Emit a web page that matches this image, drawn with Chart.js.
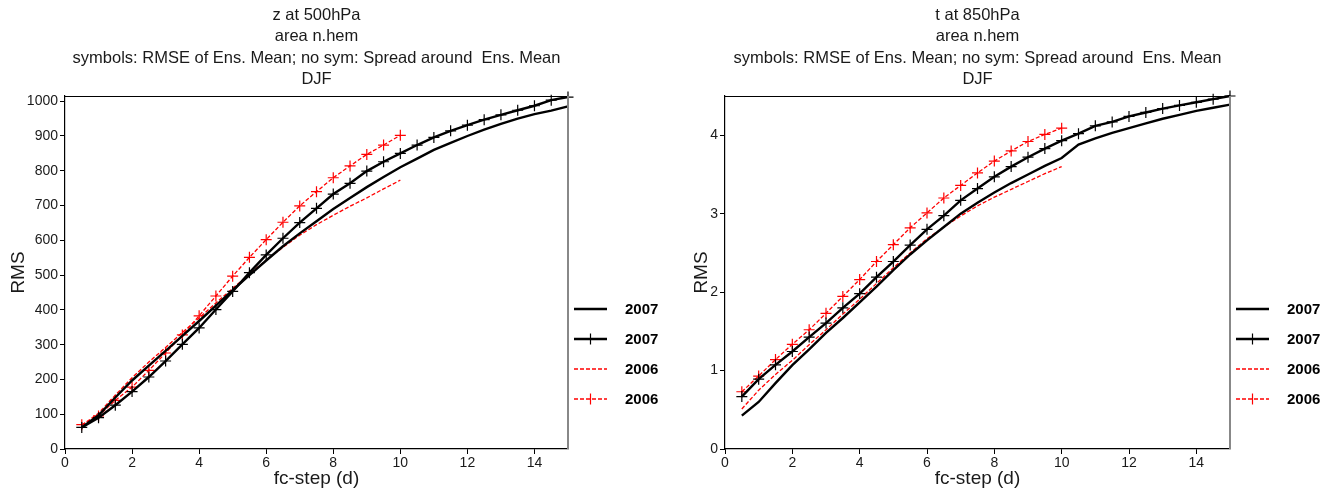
<!DOCTYPE html>
<html>
<head>
<meta charset="utf-8">
<script src="https://cdn.jsdelivr.net/npm/chart.js@4.4.1/dist/chart.umd.min.js"></script>
<style>
  body { margin: 0; background: #fff; }
  #zChart { position: absolute; left: 0; top: 0; }
  #tChart { position: absolute; left: 668px; top: 0; }
</style>
</head>
<body>
<canvas id="zChart" width="668" height="493"></canvas>
<canvas id="tChart" width="669" height="493"></canvas>
<script>
// forecast steps (days)
const steps = [0.5, 1, 1.5, 2, 2.5, 3, 3.5, 4, 4.5, 5, 5.5, 6, 6.5, 7, 7.5, 8, 8.5, 9, 9.5, 10,
               10.5, 11, 11.5, 12, 12.5, 13, 13.5, 14, 14.5, 15];
const steps2006 = [0.5, 1, 1.5, 2, 2.5, 3, 3.5, 4, 4.5, 5, 5.5, 6, 6.5, 7, 7.5, 8, 8.5, 9, 9.5, 10];

// z at 500hPa
const zSpread2007 = [62, 97, 148, 197, 240, 282, 325, 368, 412, 457, 500, 542, 583, 620, 655, 690, 722, 753, 782, 810,
                     835, 860, 880, 900, 918, 935, 950, 963, 973, 985];
const zRmse2007 = [62, 90, 126, 165, 207, 253, 301, 348, 401, 453, 507, 558, 606, 651, 692, 733, 764, 799, 826, 850,
                   874, 896, 915, 931, 947, 961, 974, 987, 1003, 1012];
const zSpread2006 = [68, 103, 155, 205, 250, 292, 335, 377, 420, 462, 503, 543, 580, 615, 645, 672, 698, 722, 748, 773];
const zRmse2006 = [70, 95, 140, 178, 226, 276, 328, 383, 440, 497, 551, 602, 652, 699, 740, 780, 814, 847, 874, 902];

// t at 850hPa
const tSpread2007 = [0.425, 0.60, 0.84, 1.07, 1.27, 1.48, 1.67, 1.87, 2.07, 2.28, 2.48, 2.66, 2.83, 3.00, 3.14, 3.27, 3.39, 3.50, 3.61, 3.71,
                     3.88, 3.96, 4.03, 4.09, 4.15, 4.21, 4.26, 4.31, 4.35, 4.39];
const tRmse2007 = [0.668, 0.89, 1.073, 1.243, 1.427, 1.605, 1.80, 1.98, 2.19, 2.39, 2.60, 2.80, 2.975, 3.17, 3.32, 3.47, 3.60, 3.72, 3.83, 3.93,
                   4.02, 4.12, 4.17, 4.24, 4.29, 4.34, 4.38, 4.42, 4.46, 4.50];
const tSpread2006 = [0.51, 0.75, 0.95, 1.13, 1.33, 1.52, 1.72, 1.91, 2.11, 2.31, 2.50, 2.68, 2.83, 2.97, 3.10, 3.21, 3.31, 3.41, 3.51, 3.60];
const tRmse2006 = [0.73, 0.93, 1.14, 1.335, 1.52, 1.73, 1.945, 2.16, 2.39, 2.605, 2.82, 3.01, 3.20, 3.36, 3.52, 3.67, 3.80, 3.92, 4.01, 4.09];

const subTitles = ['area n.hem', 'symbols: RMSE of Ens. Mean; no sym: Spread around  Ens. Mean', 'DJF'];
const seriesLabels = ['2007', '2007', '2006', '2006'];

const FONT = '"Liberation Sans", Arial, sans-serif';

function toPoints(xs, ys) {
    return ys.map((y, i) => ({ x: xs[i], y: y }));
}

// titles, frame and legend drawn around the plot
const decorPlugin = {
    id: 'decor',
    afterDraw(chart, args, opts) {
        const ctx = chart.ctx;
        const area = chart.chartArea;
        ctx.save();
        // title lines
        ctx.fillStyle = '#1a1a1a';
        ctx.font = '16.5px ' + FONT;
        ctx.textAlign = 'center';
        ctx.textBaseline = 'alphabetic';
        const cx = (area.left + area.right) / 2;
        opts.lines.forEach((t, i) => ctx.fillText(t, cx, 20 + i * 21.4));

        // top and right frame
        ctx.strokeStyle = '#000';
        ctx.lineWidth = 1;
        ctx.beginPath();
        ctx.moveTo(area.left, area.top + 0.5);
        ctx.lineTo(area.right, area.top + 0.5);
        ctx.stroke();
        ctx.strokeStyle = '#888';
        ctx.lineWidth = 2;
        ctx.beginPath();
        ctx.moveTo(area.right, area.top);
        ctx.lineTo(area.right, area.bottom);
        ctx.stroke();

        // legend
        ctx.font = 'bold 15px ' + FONT;
        ctx.textAlign = 'left';
        ctx.textBaseline = 'middle';
        chart.data.datasets.forEach((ds, i) => {
            const y = 309 + i * 30;
            const x0 = area.right + 6, x1 = area.right + 39;
            ctx.strokeStyle = ds.borderColor;
            ctx.lineWidth = ds.borderWidth;
            ctx.setLineDash(ds.borderDash || []);
            ctx.beginPath();
            ctx.moveTo(x0, y);
            ctx.lineTo(x1, y);
            ctx.stroke();
            ctx.setLineDash([]);
            if (ds.pointRadius > 0) {
                const mx = (x0 + x1) / 2;
                ctx.lineWidth = 1.2;
                ctx.beginPath();
                ctx.moveTo(mx, y - 5.5);
                ctx.lineTo(mx, y + 5.5);
                ctx.stroke();
            }
            ctx.fillStyle = '#000';
            ctx.fillText(ds.label, area.right + 57, y + 1);
        });
        ctx.restore();
    }
};

function makeChart(canvasId, mainTitle, series, yMax, yStep, yWidth, rmsPad) {
    const datasets = [
        { label: seriesLabels[0], data: toPoints(steps, series[0]), borderColor: '#000', borderWidth: 2.4,
          pointRadius: 0 },
        { label: seriesLabels[1], data: toPoints(steps, series[1]), borderColor: '#000', borderWidth: 2.4,
          pointRadius: 5.5, pointStyle: 'cross', pointBorderWidth: 1.2, pointBorderColor: '#000' },
        { label: seriesLabels[2], data: toPoints(steps2006, series[2]), borderColor: '#ff0000', borderWidth: 1.3,
          borderDash: [4, 2], pointRadius: 0 },
        { label: seriesLabels[3], data: toPoints(steps2006, series[3]), borderColor: '#ff0000', borderWidth: 1.3,
          borderDash: [4, 2], pointRadius: 5.5, pointStyle: 'cross', pointBorderWidth: 1.2, pointBorderColor: '#ff0000' }
    ];
    datasets.forEach(ds => { ds.fill = false; ds.tension = 0; ds.clip = false; });

    return new Chart(document.getElementById(canvasId), {
        type: 'line',
        data: { datasets: datasets },
        options: {
            responsive: false,
            animation: false,
            layout: { padding: { top: 96, right: canvasId === 'zChart' ? 100 : 107, left: 0, bottom: 0 } },
            plugins: {
                legend: { display: false },
                tooltip: { enabled: false },
                decor: { lines: [mainTitle].concat(subTitles) }
            },
            scales: {
                x: {
                    type: 'linear',
                    min: 0,
                    max: 15,
                    afterFit: s => { s.height = 44; },
                    ticks: { stepSize: 2, includeBounds: false, padding: 1, color: '#1a1a1a',
                             font: { size: 14, family: FONT } },
                    grid: { display: true, drawOnChartArea: false, drawTicks: true, tickLength: 5, color: '#000' },
                    border: { display: true, color: '#000', width: 1.2 },
                    title: { display: true, text: 'fc-step (d)', color: '#1a1a1a', padding: { top: 0, bottom: 3 },
                             font: { size: 19, family: FONT } }
                },
                y: {
                    type: 'linear',
                    min: 0,
                    max: yMax,
                    afterFit: s => { s.width = yWidth; },
                    ticks: { stepSize: yStep, includeBounds: false, padding: 2, color: '#1a1a1a',
                             font: { size: 14, family: FONT },
                             callback: v => String(v) },
                    grid: { display: true, drawOnChartArea: false, drawTicks: true, tickLength: 5, color: '#000' },
                    border: { display: true, color: '#000', width: 1.2 },
                    title: { display: true, text: 'RMS', color: '#1a1a1a', padding: { top: rmsPad, bottom: 0 },
                             font: { size: 19, family: FONT } }
                }
            }
        },
        plugins: [decorPlugin]
    });
}

makeChart('zChart', 'z at 500hPa', [zSpread2007, zRmse2007, zSpread2006, zRmse2006], 1015, 100, 65, 7);
makeChart('tChart', 't at 850hPa', [tSpread2007, tRmse2007, tSpread2006, tRmse2006], 4.5, 1, 57, 22);
</script>
</body>
</html>
